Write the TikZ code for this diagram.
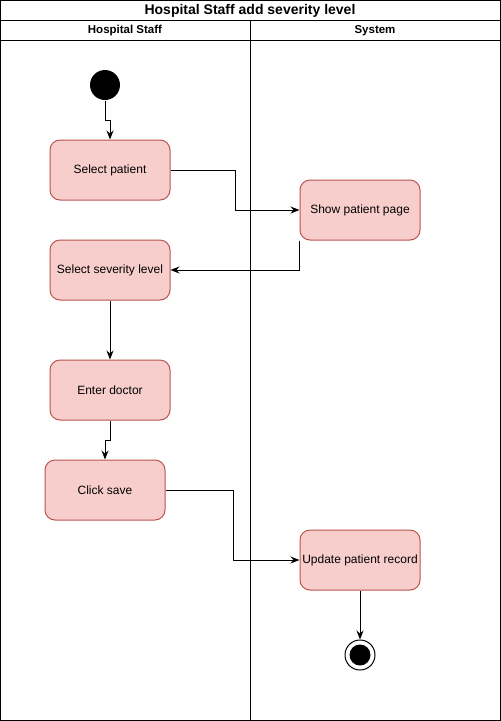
\documentclass[tikz,border=0pt]{standalone}
\usepackage{fontspec}
\setmainfont{Liberation Sans}
\usetikzlibrary{arrows.meta}
\definecolor{actfill}{HTML}{F8CECC}
\definecolor{actdraw}{HTML}{B85450}
\tikzset{
  activity/.style={draw=actdraw, fill=actfill, rounded corners=10pt,
    minimum width=120pt, minimum height=60pt, inner sep=0pt,
    font=\fontsize{12pt}{14pt}\selectfont},
  flow/.style={-{Stealth[length=9pt,width=7pt,inset=3pt]}},
  lanehead/.style={font=\bfseries\fontsize{11.5pt}{13pt}\selectfont}
}
\begin{document}
\begin{tikzpicture}[x=1pt, y=-1pt, line width=1pt]
                \useasboundingbox (0,0) rectangle (501,721);
                % swimlane frame
                \draw (0.5,0.5) rectangle (500.5,720.5);
                \draw (0.5,20) -- (500.5,20);
                \draw (0.5,40) -- (500.5,40);
                \draw (250,20) -- (250,720.5);
                \node[font=\bfseries\fontsize{14pt}{16pt}\selectfont] (title) at (250,10.5) {Hospital Staff add severity level};
                \node[lanehead] (staff) at (125,30.5) {Hospital Staff};
                \node[lanehead] (system) at (375,30.5) {System};
                % activities
                \node[circle, fill=black, minimum size=30pt, inner sep=0pt] (start) at (105,85) {};
                \node[activity] (select) at (110,170) {Select patient};
                \node[activity] (show) at (360,210) {Show patient page};
                \node[activity] (severity) at (110,270) {Select severity level};
                \node[activity] (doctor) at (110,390) {Enter doctor};
                \node[activity] (save) at (105,490) {Click save};
                \node[activity] (update) at (360,560) {Update patient record};
                \node[circle, draw, fill=white, minimum size=30pt, inner sep=0pt] (finish) at (360,655) {};
                \fill (finish) circle (10.5pt);
                % flows
                \draw[flow] (start.south) -- ++(0,20) -| (select.north);
                \draw[flow] (select.east) -- ++(65,0) |- (show.west);
                \draw[flow] (show.south west) |- (severity.east);
                \draw[flow] (severity) -- (doctor);
                \draw[flow] (doctor.south) -- ++(0,20) -| (save.north);
                \draw[flow] (save.east) -- ++(68,0) |- (update.west);
                \draw[flow] (update) -- (finish);
            \end{tikzpicture}
\end{document}
